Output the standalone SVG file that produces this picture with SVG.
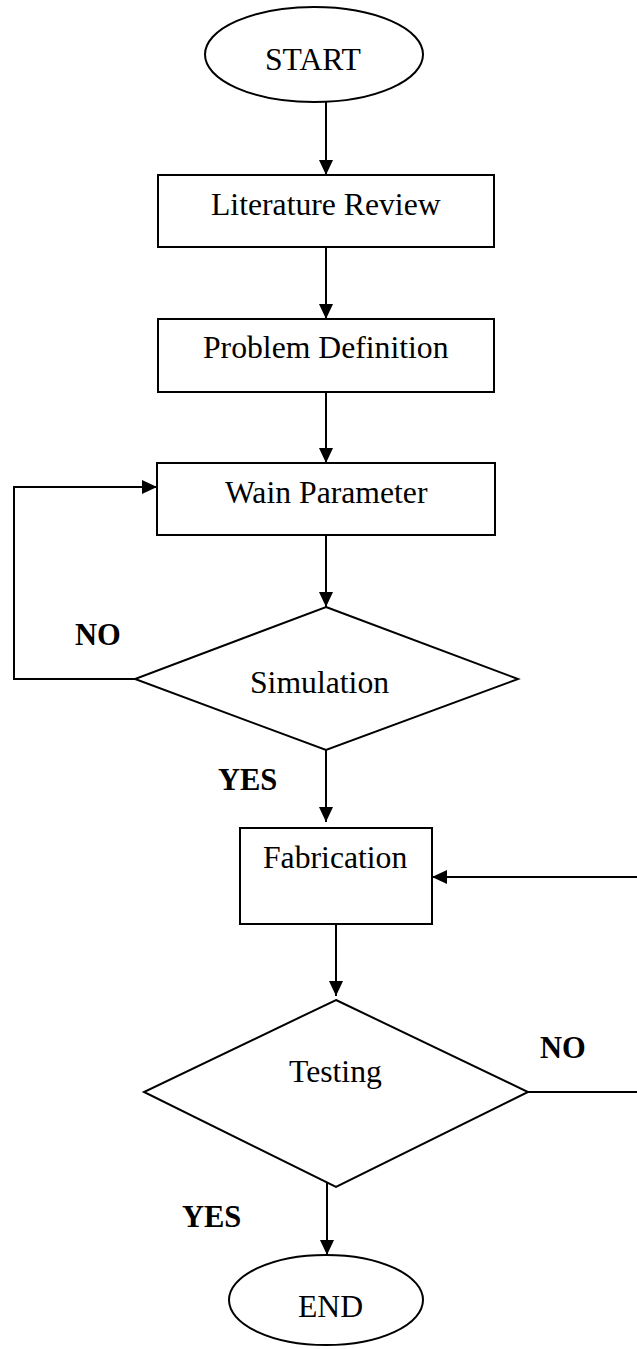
<svg xmlns="http://www.w3.org/2000/svg" width="637" height="1349" viewBox="0 0 637 1349">
<style>
.shape{fill:#fff;stroke:#000;stroke-width:2}
.conn{fill:none;stroke:#000;stroke-width:2}
.t{font-family:"Liberation Serif","Times New Roman",serif;font-size:31.7px;fill:#000}
.b{font-family:"Liberation Serif","Times New Roman",serif;font-size:30.5px;font-weight:bold;fill:#000}
</style>
<defs>
<marker id="ah" markerUnits="userSpaceOnUse" markerWidth="15" markerHeight="14" refX="15" refY="7" orient="auto">
<path d="M0,0 L15,7 L0,14 z" fill="#000"/>
</marker>
</defs>
<rect width="637" height="1349" fill="#fff"/>
<g id="connectors">
<path class="conn" d="M326,102 V175" marker-end="url(#ah)"/>
<path class="conn" d="M326,247 V319" marker-end="url(#ah)"/>
<path class="conn" d="M326,392 V463" marker-end="url(#ah)"/>
<path class="conn" d="M326,535 V607" marker-end="url(#ah)"/>
<path class="conn" d="M135,679 H14 V487 H157" marker-end="url(#ah)"/>
<path class="conn" d="M326,750 V822" marker-end="url(#ah)"/>
<path class="conn" d="M336,924 V996" marker-end="url(#ah)"/>
<path class="conn" d="M528,1092 H645 V877 H432" marker-end="url(#ah)"/>
<path class="conn" d="M327,1183 V1255" marker-end="url(#ah)"/>
</g>
<g id="labels">
<text class="b" x="75" y="645">NO</text>
<text class="b" x="218" y="790">YES</text>
<text class="b" x="540" y="1058">NO</text>
<text class="b" x="182" y="1227">YES</text>
</g>
<g id="start">
<ellipse class="shape" cx="314" cy="54.5" rx="109" ry="47.5"/>
<text class="t" x="265" y="70">START</text>
</g>
<g id="literature-review">
<rect class="shape" x="158" y="175" width="336" height="72"/>
<text class="t" x="211" y="215">Literature Review</text>
</g>
<g id="problem-definition">
<rect class="shape" x="158" y="319" width="336" height="73"/>
<text class="t" x="203" y="358">Problem Definition</text>
</g>
<g id="wain-parameter">
<rect class="shape" x="157" y="463" width="338" height="72"/>
<text class="t" x="225" y="503">Wain Parameter</text>
</g>
<g id="simulation">
<polygon class="shape" points="326,607 518,679 326,750 135,679"/>
<text class="t" x="250" y="693">Simulation</text>
</g>
<g id="fabrication">
<rect class="shape" x="240" y="828" width="192" height="96"/>
<text class="t" x="263" y="868">Fabrication</text>
</g>
<g id="testing">
<polygon class="shape" points="336,1000 528,1092 336,1187 144,1092"/>
<text class="t" x="289" y="1082">Testing</text>
</g>
<g id="end">
<ellipse class="shape" cx="326" cy="1300" rx="97" ry="45"/>
<text class="t" x="298" y="1317">END</text>
</g>
</svg>
